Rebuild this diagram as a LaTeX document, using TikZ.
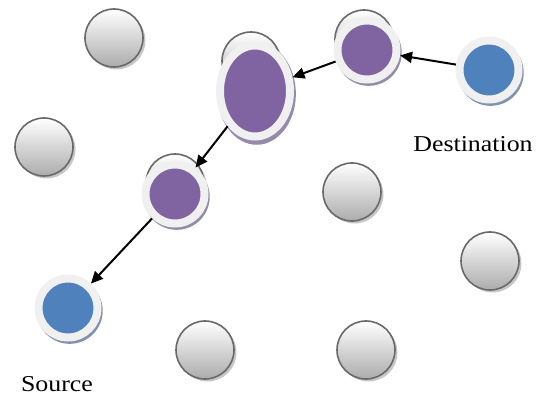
\documentclass[tikz,border=0pt]{standalone}
\usepackage{fontspec}
\setmainfont{Liberation Serif}
\usetikzlibrary{shapes.geometric, arrows.meta, shadows}
\definecolor{nodegray}{RGB}{105, 105, 105}
\definecolor{ringwhite}{RGB}{240, 240, 240}
\definecolor{hopviolet}{RGB}{128, 100, 162}
\definecolor{endblue}{RGB}{79, 129, 189}
\definecolor{shviolet}{RGB}{150, 138, 170}
\definecolor{shblue}{RGB}{130, 146, 172}
\tikzset{
  idle/.style    = {circle, minimum size=58pt, inner sep=0pt, draw=nodegray, line width=1.6pt,
                    top color=white, bottom color=gray!65,
                    drop shadow={shadow xshift=2.5pt, shadow yshift=-2.5pt, fill=gray!55, opacity=0.8}},
  hop/.style     = {circle, minimum size=59pt, inner sep=0pt, fill=hopviolet, draw=ringwhite, line width=8pt,
                    drop shadow={shadow scale=1.12, shadow xshift=1.5pt, shadow yshift=-2.5pt, fill=shviolet, opacity=1}},
  hopbig/.style  = {hop, ellipse, minimum width=70pt, minimum height=91pt},
  terminal/.style= {circle, minimum size=59pt, inner sep=0pt, fill=endblue, draw=ringwhite, line width=8pt,
                    drop shadow={shadow scale=1.12, shadow xshift=1.5pt, shadow yshift=-2.5pt, fill=shblue, opacity=1}},
  lbl/.style     = {font=\fontsize{22.7}{27}\selectfont, xscale=1.14, transform shape, inner sep=0pt, anchor=base},
  route/.style   = {-{Triangle[length=12pt, width=11pt]}, line width=2pt, black},
}

\begin{document}
\begin{tikzpicture}[x=1pt, y=-1pt]
\useasboundingbox (0,0) rectangle (542,396);

% 空闲节点
\node[idle] (n1) at (114,38) {};
\node[idle] (n2) at (44,147) {};
\node[idle] (n3) at (352,192) {};
\node[idle] (n4) at (490,261) {};
\node[idle] (n5) at (205,350) {};
\node[idle] (n6) at (366,350) {};

% 中继节点下方被遮住的节点
\node[idle] (b1) at (364,39) {};
\node[idle] (b2) at (251,61) {};
\node[idle] (b3) at (175,183) {};

% 中继节点
\node[hop] (h1) at (367,50) {};
\node[hopbig] (h2) at (255,91) {};
\node[hop] (h3) at (175,194) {};

% 源与目的
\node[terminal] (dst) at (489,70) {};
\node[terminal] (src) at (68,308) {};
\node[lbl] (dstlbl) at (473,152) {Destination};
\node[lbl] (srclbl) at (57,391) {Source};

% 路由方向
\draw[route] (dst) -- (h1);
\draw[route] (h1) -- (h2);
\draw[route] (h2) -- (h3);
\draw[route] (h3) -- (src);

\end{tikzpicture}
\end{document}
